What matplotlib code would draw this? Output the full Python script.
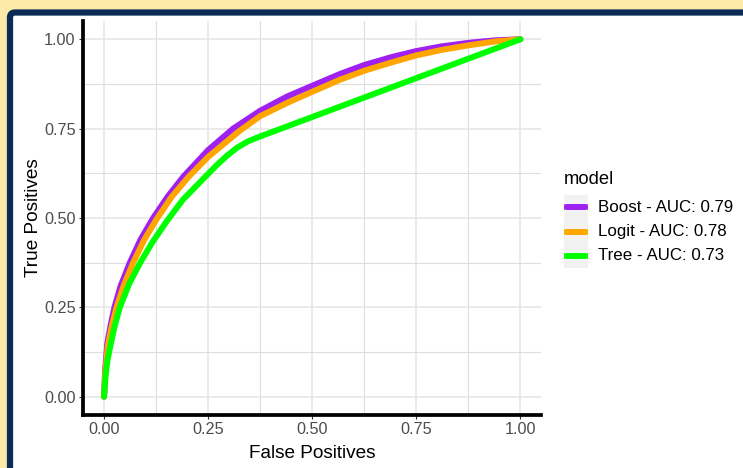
import matplotlib
matplotlib.use("Agg")
import matplotlib.pyplot as plt
from matplotlib.patches import FancyBboxPatch
from matplotlib.ticker import MultipleLocator

plt.rcParams['font.family'] = ['Liberation Sans', 'DejaVu Sans']

# ---- data ----
model_names = ["Boost", "Logit", "Tree"]
auc_values = [0.79, 0.78, 0.73]
model_colors = ["#A020F0", "#FFA500", "#00FF00"]

boost_fpr = [0, 0.003, 0.008, 0.015, 0.025, 0.04, 0.062, 0.088, 0.118, 0.153, 0.19, 0.25,
             0.31, 0.375, 0.44, 0.5, 0.567, 0.625, 0.69, 0.75, 0.81, 0.875, 0.94, 1.0]
boost_tpr = [0, 0.08, 0.15, 0.195, 0.25, 0.31, 0.375, 0.44, 0.5, 0.56, 0.615, 0.69,
             0.75, 0.80, 0.84, 0.87, 0.903, 0.928, 0.95, 0.967, 0.98, 0.99, 0.997, 1.0]

logit_fpr = [0, 0.003, 0.009, 0.018, 0.03, 0.047, 0.07, 0.097, 0.128, 0.163, 0.203, 0.25,
             0.327, 0.375, 0.44, 0.5, 0.567, 0.625, 0.69, 0.75, 0.81, 0.875, 0.94, 1.0]
logit_tpr = [0, 0.07, 0.14, 0.195, 0.25, 0.31, 0.375, 0.44, 0.5, 0.56, 0.615, 0.671,
             0.745, 0.785, 0.822, 0.853, 0.887, 0.912, 0.935, 0.955, 0.97, 0.983, 0.994, 1.0]

tree_fpr = [0, 0.004, 0.008, 0.014, 0.025, 0.038, 0.06, 0.087, 0.115, 0.15, 0.19, 0.243,
            0.27, 0.295, 0.32, 0.345, 0.37, 1.0]
tree_tpr = [0, 0.06, 0.1, 0.135, 0.195, 0.25, 0.315, 0.375, 0.43, 0.49, 0.552, 0.615,
            0.647, 0.674, 0.697, 0.714, 0.726, 1.0]

tick_vals = [0.0, 0.25, 0.5, 0.75, 1.0]
tick_labels = ["0.00", "0.25", "0.50", "0.75", "1.00"]

W, H = 743, 468
fig = plt.figure(figsize=(W / 100, H / 100), dpi=100)
fig.patch.set_facecolor("#FCEAA8")

# background frame (pixel coordinates)
bg = fig.add_axes([0, 0, 1, 1], zorder=0)
bg.set_xlim(0, W)
bg.set_ylim(H, 0)
bg.axis("off")
bg.add_patch(FancyBboxPatch((10, 12.5), W + 40, H + 40,
                            boxstyle="round,pad=0,rounding_size=5",
                            facecolor="white", edgecolor="#0C2C58", linewidth=4.5))

# main axes
L, R, T, B = 83.2, 541.2, 21.4, 414.6
ax = fig.add_axes([L / W, (H - B) / H, (R - L) / W, (B - T) / H], zorder=1)
ax.set_facecolor("none")

for fpr, tpr, col in zip([boost_fpr, logit_fpr, tree_fpr],
                         [boost_tpr, logit_tpr, tree_tpr], model_colors):
    ax.plot(fpr, tpr, color=col, lw=4.3, solid_capstyle="round",
            solid_joinstyle="round", zorder=3)

ax.set_xlim(-0.05, 1.05)
ax.set_ylim(-0.05, 1.05)
ax.set_xticks(tick_vals)
ax.set_xticklabels(tick_labels)
ax.set_yticks(tick_vals)
ax.set_yticklabels(tick_labels)
ax.xaxis.set_minor_locator(MultipleLocator(0.125))
ax.yaxis.set_minor_locator(MultipleLocator(0.125))
ax.grid(which="major", color="#E6E6E6", lw=1.2, zorder=0)
ax.grid(which="minor", color="#DDDDDD", lw=0.8, zorder=0)
ax.set_axisbelow(True)
ax.tick_params(which="major", length=3, width=0.8, color="#333333",
               labelsize=11.7, labelcolor="#4D4D4D", pad=2.5)
ax.tick_params(which="minor", length=0)
for s in ["top", "right"]:
    ax.spines[s].set_visible(False)
for s in ["left", "bottom"]:
    ax.spines[s].set_linewidth(2.7)
    ax.spines[s].set_color("black")

ax.set_xlabel("False Positives", fontsize=13.7, color="black", labelpad=5.5)
ax.set_ylabel("True Positives", fontsize=13.7, color="black", labelpad=1.5)

# legend
fig.text(564 / W, 1 - 180 / H, "model", fontsize=13.2, ha="left", va="center")
kx0, kx1, ky0, ky1 = 564, 588, 195, 268
kax = fig.add_axes([kx0 / W, (H - ky1) / H, (kx1 - kx0) / W, (ky1 - ky0) / H], zorder=1)
kax.set_facecolor("#F2F2F2")
kax.set_xlim(0, 1)
kax.set_ylim(len(model_names), 0)
kax.set_xticks([])
kax.set_yticks([])
for s in kax.spines.values():
    s.set_visible(False)
for i, (name, auc, col) in enumerate(zip(model_names, auc_values, model_colors)):
    kax.plot([0.08, 0.92], [i + 0.5, i + 0.5], color=col, lw=4.3, solid_capstyle="round")
    yc = ky0 + (i + 0.5) * (ky1 - ky0) / len(model_names)
    fig.text(598 / W, 1 - yc / H, f"{name} - AUC: {auc:.2f}", fontsize=12.2,
             ha="left", va="center")

fig.savefig("out.png", dpi=100, facecolor=fig.get_facecolor())
